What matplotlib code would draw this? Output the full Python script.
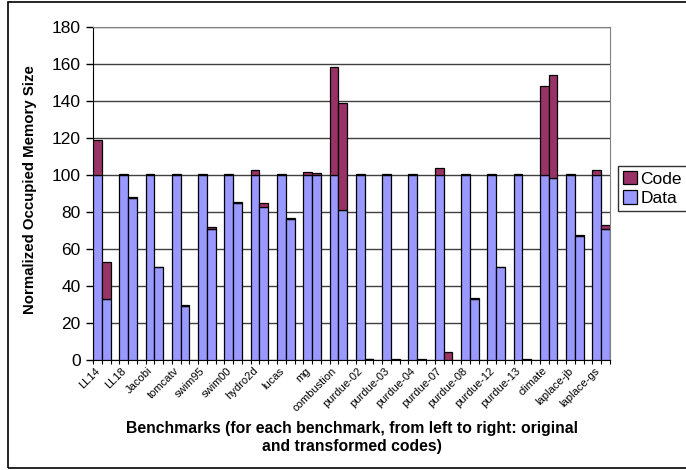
import numpy as np
import matplotlib
matplotlib.use("Agg")
import matplotlib.pyplot as plt
from matplotlib.patches import Rectangle

plt.rcParams['font.family'] = ['Liberation Sans', 'DejaVu Sans']

# ==================== data ====================
benchmarks = ['LL14', 'LL18', 'Jacobi', 'tomcatv', 'swim95', 'swim00', 'hydro2d',
              'lucas', 'mg', 'combustion', 'purdue-02', 'purdue-03', 'purdue-04',
              'purdue-07', 'purdue-08', 'purdue-12', 'purdue-13', 'climate',
              'laplace-jb', 'laplace-gs']
# original codes
data_orig = [100, 100, 100, 100, 100, 100, 100, 100, 100, 100,
             100, 100, 100, 100, 100, 100, 100, 100, 100, 100]
code_orig = [19, 0.3, 0.3, 0.3, 0.5, 0.3, 2.4, 0.3, 1.3, 58,
             0.5, 0.5, 0.4, 3.5, 0.5, 0.5, 0.4, 48, 0.4, 2.4]
# transformed codes
data_trans = [33, 87.5, 50, 29.3, 71, 85, 82.4, 76.3, 100, 81,
              0.3, 0.2, 0.2, 0.1, 33, 50, 0.2, 98.1, 67, 71]
code_trans = [20, 0.3, 0.3, 0.3, 0.6, 0.2, 2.5, 0.2, 1, 58,
              0.4, 0.3, 0.3, 4, 0.6, 0.4, 0.3, 55.8, 0.5, 1.7]

DATA_COLOR = '#9999FF'
CODE_COLOR = '#993366'

# ==================== plot ====================
fig = plt.figure(figsize=(6.86, 4.70), dpi=100)
ax = fig.add_axes([93 / 686, 110 / 470, 517 / 686, 333.3 / 470])

n = len(benchmarks)
x_orig = np.arange(n) * 3
x_trans = x_orig + 1

for xs, d, c in [(x_orig, data_orig, code_orig), (x_trans, data_trans, code_trans)]:
    ax.bar(xs, d, width=1.0, color=DATA_COLOR, edgecolor='black', linewidth=0.9,
           label='Data' if xs is x_orig else None, zorder=3)
    ax.bar(xs, c, width=1.0, bottom=d, color=CODE_COLOR, edgecolor='black', linewidth=0.9,
           label='Code' if xs is x_orig else None, zorder=3)

ax.set_xlim(-0.5, 3 * n - 1.5)
ax.set_ylim(0, 180)
ax.set_yticks(np.arange(0, 181, 20))
ax.yaxis.grid(True, color='#404040', linewidth=1.0, zorder=0)
ax.tick_params(axis='y', labelsize=12.5, length=5, width=1, pad=4)

ax.set_xticks(x_orig - 0.3)
ax.set_xticklabels(benchmarks, rotation=45, ha='right', rotation_mode='anchor', fontsize=8)
ax.tick_params(axis='x', length=0, pad=4)
ax.set_xticks(np.arange(-0.5, 3 * n - 1, 1.0), minor=True)
ax.tick_params(axis='x', which='minor', length=3, width=0.8)

for s in ['top', 'right']:
    ax.spines[s].set_color('#808080')
for s in ['left', 'bottom']:
    ax.spines[s].set_color('black')

# axis titles placed in figure pixels
fig.text(30 / 686, 1 - 190 / 470, 'Normalized Occupied Memory Size', rotation=90,
         ha='center', va='center', fontsize=10.8, fontweight='bold')
fig.text(351.5 / 686, 1 - 421 / 470,
         'Benchmarks (for each benchmark, from left to right: original\nand transformed codes)',
         ha='center', va='top', fontsize=11.3, fontweight='bold', linespacing=1.25)

handles, labels = ax.get_legend_handles_labels()
order = [labels.index('Code'), labels.index('Data')]
leg = fig.legend([handles[i] for i in order], [labels[i] for i in order],
                 loc='upper left', bbox_to_anchor=(618 / 686, 1 - 166 / 470),
                 fontsize=12.5, frameon=True, fancybox=False, edgecolor='black',
                 handlelength=0.8, handleheight=0.8, handletextpad=0.2,
                 borderpad=0.3, labelspacing=0.2, borderaxespad=0)
leg.get_frame().set_linewidth(1.0)

# outer chart-area frame
fig.patches.append(Rectangle((8 / 686, 2 / 470), 1.0, 466 / 470, transform=fig.transFigure,
                             fill=False, edgecolor='black', linewidth=1.2))

fig.savefig('out.png', dpi=100)
